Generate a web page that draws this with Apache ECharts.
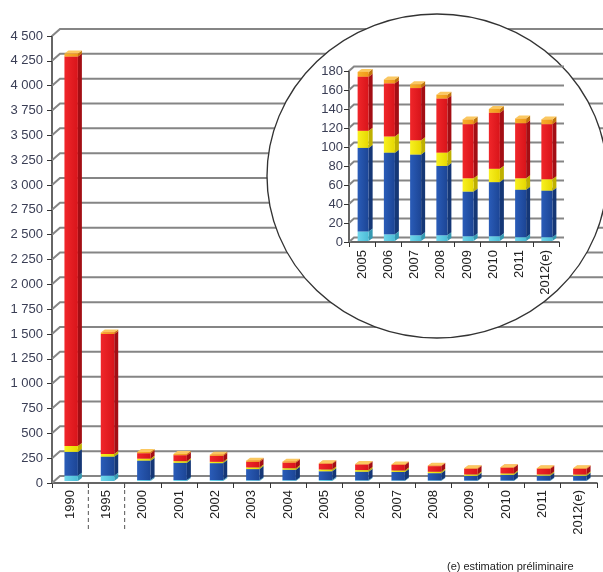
<!DOCTYPE html>
<html>
<head>
<meta charset="utf-8">
<script src="https://cdn.jsdelivr.net/npm/echarts@6/dist/echarts.min.js"></script>
<style>
  html, body { margin: 0; padding: 0; background: #ffffff; }
  #chart { width: 603px; height: 572px; }
</style>
</head>
<body>
<div id="chart"></div>
<script>
// Years shown on the main axis
const years = ['1990', '1995', '2000', '2001', '2002', '2003', '2004', '2005',
               '2006', '2007', '2008', '2009', '2010', '2011', '2012(e)'];

// Stacked components, bottom to top
const cyanPart   = [53, 53, 10, 10, 10, 8, 8, 10, 7, 6, 6, 5, 5, 4, 4];
const bluePart   = [240, 192, 195, 173, 170, 112, 105, 88, 86, 85, 73, 47, 57, 50, 49];
const yellowPart = [60, 27, 20, 17, 13, 17, 16, 18, 17, 15, 14, 14, 14, 12, 12];
const redPart    = [3920, 1208, 55, 60, 60, 56, 56, 57, 56, 55, 57, 57, 59, 58, 58];
const orangePart = [30, 15, 12, 12, 12, 12, 10, 5, 4, 4, 4, 5, 4, 5, 5];

// Zoomed panel shows the years from 2005 on
const insetStart = 7;
const insetYears = years.slice(insetStart);

// Axis ticks
const mainTicks  = [0, 250, 500, 750, 1000, 1250, 1500, 1750, 2000, 2250, 2500,
                    2750, 3000, 3250, 3500, 3750, 4000, 4250, 4500];
const insetTicks = [0, 20, 40, 60, 80, 100, 120, 140, 160, 180];

// Years followed by a dashed separator (uneven spacing of the early years)
const separatedAfter = ['1990', '1995'];

const segColors = [
  { front: ['#6fd6ec', '#4cbcd6'], side: '#3599b2', top: '#9be6f4' },
  { front: ['#2a5cb8', '#1c4595'], side: '#153776', top: '#4574cc' },
  { front: ['#f8f020', '#e6d800'], side: '#bfb000', top: '#fff870' },
  { front: ['#f0262a', '#d8141a'], side: '#a30e14', top: '#f45a50' },
  { front: ['#f8ae2c', '#ee9818'], side: '#c0760c', top: '#fbc860' }
];

function rows(from) {
  const out = [];
  for (let i = from; i < years.length; i++) {
    out.push([i - from, cyanPart[i], bluePart[i], yellowPart[i], redPart[i], orangePart[i]]);
  }
  return out;
}

// 3D-looking stacked column: front face, right side face and top face per segment
function bar3d(widthRatio, dx, dy, shiftX, shiftY) {
  return function (params, api) {
    const idx = api.value(0);
    const band = api.size([1, 0])[0];
    const w = band * widthRatio;
    const c = api.coord([idx, 0]);
    const x0 = c[0] - w / 2 + shiftX;
    let acc = 0;
    const children = [];
    for (let s = 0; s < segColors.length; s++) {
      const v = api.value(s + 1);
      const yb = api.coord([idx, acc])[1] + shiftY;
      acc += v;
      const yt = api.coord([idx, acc])[1] + shiftY;
      const col = segColors[s];
      children.push({
        type: 'polygon',
        shape: { points: [[x0 + w, yb], [x0 + w + dx, yb - dy], [x0 + w + dx, yt - dy], [x0 + w, yt]] },
        style: { fill: col.side }
      });
      children.push({
        type: 'polygon',
        shape: { points: [[x0, yt], [x0 + dx, yt - dy], [x0 + w + dx, yt - dy], [x0 + w, yt]] },
        style: { fill: col.top }
      });
      children.push({
        type: 'rect',
        shape: { x: x0, y: yt, width: w, height: Math.max(0, yb - yt) },
        style: {
          fill: new echarts.graphic.LinearGradient(0, 0, 1, 0, [
            { offset: 0, color: col.front[0] },
            { offset: 1, color: col.front[1] }
          ])
        }
      });
    }
    return { type: 'group', children: children };
  };
}

// Back wall: each tick level runs diagonally back, then across the chart
function wall(dx, dy, color, width) {
  return function (params, api) {
    const cs = params.coordSys;
    const y = api.coord([0, api.value(1)])[1];
    const x0 = cs.x;
    const right = cs.x + cs.width + dx;
    return {
      type: 'polyline',
      shape: { points: [[x0, y], [x0 + dx, y - dy], [right, y - dy]] },
      style: { stroke: color, lineWidth: width, fill: null }
    };
  };
}

function thousands(v) {
  return String(v).replace(/\B(?=(\d{3})+(?!\d))/g, ' ');
}

const labelFont = 'Liberation Sans, Arial, sans-serif';

const chart = echarts.init(document.getElementById('chart'), null, { renderer: 'canvas' });

chart.setOption({
  backgroundColor: '#ffffff',
  animation: false,
  grid: [
    { left: 52, top: 36, width: 545, height: 447 },
    { left: 349, top: 71, width: 210, height: 171 }
  ],
  xAxis: [
    {
      type: 'category', gridIndex: 0, data: years,
      axisLine: { lineStyle: { color: '#333333', width: 1.5 } },
      axisTick: { show: true, interval: 0, length: 5, lineStyle: { color: '#333333' } },
      axisLabel: { interval: 0, rotate: 90, margin: 7, fontSize: 13, color: '#222222', fontFamily: labelFont }
    },
    {
      type: 'category', gridIndex: 1, data: insetYears, z: 10,
      axisLine: { lineStyle: { color: '#333333', width: 1.5 } },
      axisTick: { show: true, interval: 0, length: 5, lineStyle: { color: '#333333' } },
      axisLabel: { interval: 0, rotate: 90, margin: 8, fontSize: 13, color: '#222222', fontFamily: labelFont }
    }
  ],
  yAxis: [
    {
      type: 'value', gridIndex: 0, min: 0, max: 4500, interval: 250,
      axisLine: { show: true, lineStyle: { color: '#333333', width: 1.5 } },
      axisTick: { show: true, length: 5, lineStyle: { color: '#333333' } },
      splitLine: { show: false },
      axisLabel: { margin: 9, fontSize: 13, color: '#3a3e55', fontFamily: labelFont, formatter: thousands }
    },
    {
      type: 'value', gridIndex: 1, min: 0, max: 180, interval: 20, z: 10,
      axisLine: { show: true, lineStyle: { color: '#333333', width: 1.5 } },
      axisTick: { show: true, length: 5, lineStyle: { color: '#333333' } },
      splitLine: { show: false },
      axisLabel: { margin: 6, fontSize: 13, color: '#3a3e55', fontFamily: labelFont }
    }
  ],
  graphic: [
    {
      type: 'circle', z: 5,
      x: 437, y: 176, scaleX: 170 / 162, scaleY: 1,
      shape: { cx: 0, cy: 0, r: 162 },
      style: { fill: '#ffffff', stroke: '#333333', lineWidth: 1.3 }
    },
    {
      type: 'text', z: 5, left: 447, top: 561,
      style: { text: '(e) estimation préliminaire', fill: '#222222', font: '11px Liberation Sans, Arial, sans-serif' }
    }
  ],
  series: [
    {
      name: 'wall', type: 'custom', xAxisIndex: 0, yAxisIndex: 0, z: 1, silent: true,
      data: mainTicks.map(t => [0, t]), encode: { x: 0, y: 1 },
      renderItem: wall(8, 7, '#858585', 2)
    },
    {
      name: 'separators', type: 'custom', xAxisIndex: 0, yAxisIndex: 0, z: 1, silent: true,
      data: separatedAfter.map(y => [years.indexOf(y), 0]), encode: { x: 0, y: 1 },
      renderItem: function (params, api) {
        const band = api.size([1, 0])[0];
        const p = api.coord([api.value(0), 0]);
        const x = p[0] + band / 2;
        return {
          type: 'line',
          shape: { x1: x, y1: p[1], x2: x, y2: p[1] + 46 },
          style: { stroke: '#555555', lineWidth: 1, lineDash: [4, 3] }
        };
      }
    },
    {
      name: 'bars', type: 'custom', xAxisIndex: 0, yAxisIndex: 0, z: 3, silent: true,
      data: rows(0), encode: { x: 0, y: [1, 2, 3, 4, 5] },
      renderItem: bar3d(0.37, 4, 3, 1, -2)
    },
    {
      name: 'insetWall', type: 'custom', xAxisIndex: 1, yAxisIndex: 1, z: 11, silent: true,
      data: insetTicks.map(t => [0, t]), encode: { x: 0, y: 1 },
      renderItem: wall(5, 4.5, '#858585', 2)
    },
    {
      name: 'insetBars', type: 'custom', xAxisIndex: 1, yAxisIndex: 1, z: 12, silent: true,
      data: rows(insetStart), encode: { x: 0, y: [1, 2, 3, 4, 5] },
      renderItem: bar3d(0.42, 4, 3, 1, -1)
    }
  ]
});
</script>
</body>
</html>
